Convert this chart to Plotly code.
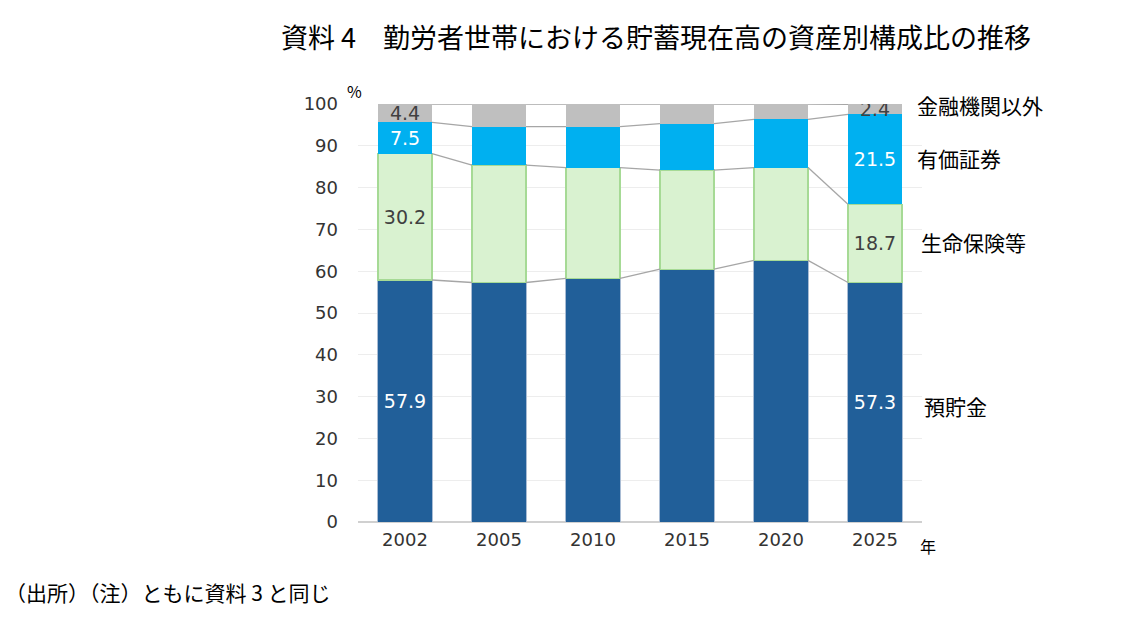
import plotly.graph_objects as go

years = ["2002", "2005", "2010", "2015", "2020", "2025"]
series_names = ["預貯金", "生命保険等", "有価証券", "金融機関以外"]
deposits = [57.9, 57.3, 58.3, 60.5, 62.6, 57.3]
life_ins = [30.2, 28.1, 26.5, 23.7, 22.2, 18.7]
securities = [7.5, 9.2, 9.8, 11.1, 11.5, 21.5]
non_fin = [4.4, 5.4, 5.4, 4.7, 3.7, 2.4]
y_ticks = [0, 10, 20, 30, 40, 50, 60, 70, 80, 90, 100]

series = [deposits, life_ins, securities, non_fin]
fills = ["#215F99", "#D9F2D0", "#00B0F0", "#BFBFBF"]
borders = ["#A9BCD4", "#A6DA95", "#00B0F0", "#BFBFBF"]
border_w = [1, 1.2, 0, 0]
text_colors = ["#FFFFFF", "#404040", "#FFFFFF", "#404040"]

BAR_W = 0.575
xs = list(range(len(years)))
font_num = "DejaVu Sans, Noto Sans, sans-serif"
font_jp = "Noto Sans CJK JP, sans-serif"

fig = go.Figure()

# cumulative tops for connector lines
cum = []
run = [0.0] * len(years)
for s in series:
    run = [r + v for r, v in zip(run, s)]
    cum.append(run[:])

for level in cum:
    for i in range(len(years) - 1):
        fig.add_trace(go.Scatter(
            x=[xs[i] + BAR_W / 2, xs[i + 1] - BAR_W / 2],
            y=[min(level[i], 100), min(level[i + 1], 100)],
            mode="lines", line=dict(color="#A6A6A6", width=1.3),
            showlegend=False, hoverinfo="skip"))

for k, (name, vals) in enumerate(zip(series_names, series)):
    texts = [f"{v:.1f}" if i in (0, len(years) - 1) else "" for i, v in enumerate(vals)]
    fig.add_trace(go.Bar(
        x=xs, y=vals, name=name, width=BAR_W,
        marker=dict(color=fills[k], line=dict(color=borders[k], width=border_w[k])),
        text=texts, textposition="inside", insidetextanchor="middle",
        constraintext="none",
        textfont=dict(color=text_colors[k], size=19, family=font_num),
        showlegend=False))

fig.update_layout(
    barmode="stack",
    width=1127, height=625,
    margin=dict(l=358, r=205, t=104, b=103),
    plot_bgcolor="white", paper_bgcolor="white",
    title=dict(text="資料 4　勤労者世帯における貯蓄現在高の資産別構成比の推移",
               x=656 / 1127, xanchor="center", xref="container",
               y=1 - 39 / 625, yanchor="middle", yref="container",
               font=dict(family=font_jp, size=27, color="#000000")),
    xaxis=dict(range=[-0.5, 5.5], tickvals=xs, ticktext=years,
               showgrid=False, zeroline=False, showline=False,
               tickfont=dict(family=font_num, size=18, color="#333333"),
               ticklabelstandoff=5, ticks=""),
    yaxis=dict(range=[0, 100], tickvals=y_ticks,
               showgrid=True, gridcolor="#EDEDED", gridwidth=1,
               zeroline=True, zerolinecolor="#D0D0D0", zerolinewidth=1.5,
               tickfont=dict(family=font_num, size=18, color="#333333"),
               ticklabelstandoff=19, ticks=""),
)

ann = [
    dict(text="金融機関以外", x=915, y=105, size=21),
    dict(text="有価証券", x=915, y=158, size=21),
    dict(text="生命保険等", x=919, y=242, size=21),
    dict(text="預貯金", x=922, y=406, size=21),
    dict(text="年", x=918, y=546, size=16),
    dict(text="%", x=345, y=91, size=16),
    dict(text="（出所）（注）ともに資料 3 と同じ", x=3, y=592, size=21),
]
L, R, T, B = 358, 205, 104, 103
pw, ph = 1127 - L - R, 625 - T - B
for a in ann:
    fig.add_annotation(text=a["text"], x=(a["x"] - L) / pw, y=1 - (a["y"] - T) / ph,
                       xref="paper", yref="paper",
                       showarrow=False, xanchor="left", yanchor="middle",
                       font=dict(family=font_jp, size=a["size"], color="#000000"))

fig.write_html("out.html")
